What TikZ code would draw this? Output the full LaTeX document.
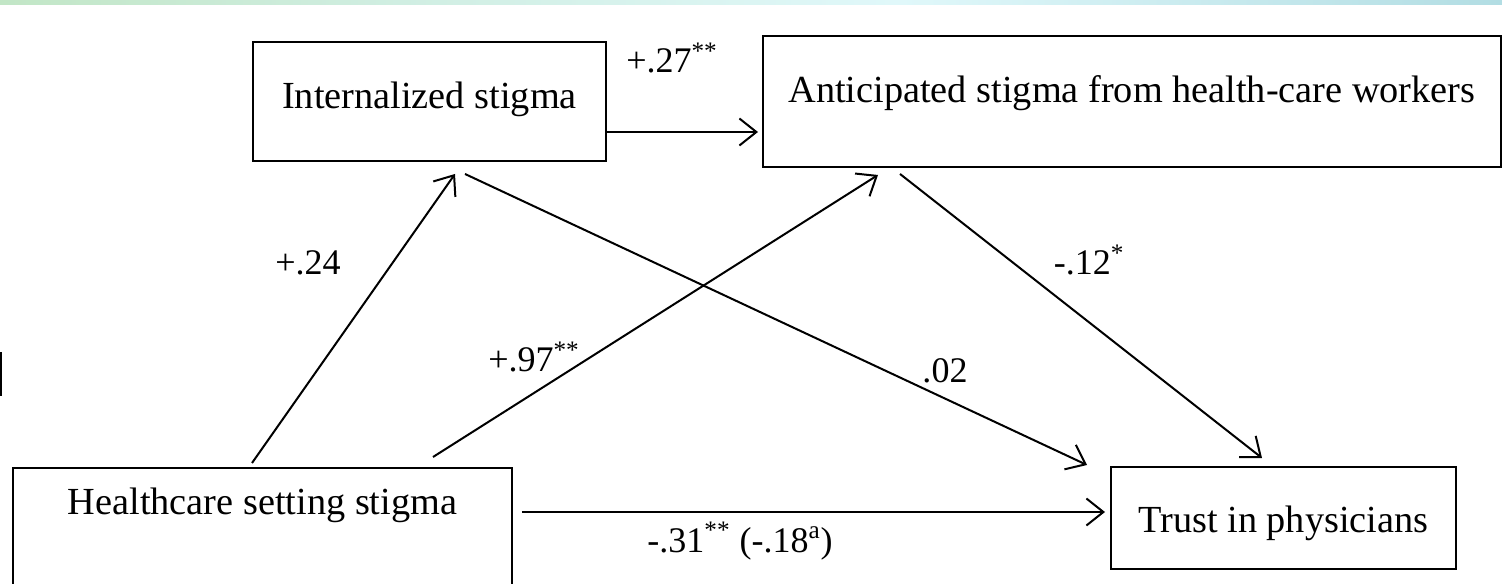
\documentclass[tikz,border=0pt]{standalone}
\usepackage{fontspec}
\setmainfont{Liberation Serif}
\usetikzlibrary{arrows.meta,calc}
\definecolor{bandgreen}{RGB}{194,230,198}
\definecolor{bandmint}{RGB}{208,238,226}
\definecolor{bandcyan}{RGB}{224,248,250}
\definecolor{bandteal}{RGB}{178,221,227}

\begin{document}
\begin{tikzpicture}[x=0.02cm,y=-0.02cm,
  box/.style={draw,line width=0.04cm,inner sep=0pt,anchor=north west,
    font=\fontsize{21.8}{26}\selectfont},
  link/.style={line width=0.04cm,-{Straight Barb[length=3.4mm,width=5.4mm]}},
  coef/.style={anchor=base,inner sep=0pt,font=\fontsize{20.5}{24}\selectfont}]
\useasboundingbox (0,0) rectangle (1502,584);
\clip (0,0) rectangle (1502,584);
% band on top
\shade[left color=bandgreen,right color=bandmint] (0,0) rectangle (400,5);
\shade[left color=bandmint,right color=bandcyan] (400,0) rectangle (900,5);
\shade[left color=bandcyan,right color=bandteal] (900,0) rectangle (1502,5);
\fill[black] (0,352) rectangle (2.5,396);
% boxes
\node[box,minimum width=7.06cm,text height=1.34cm,text depth=1.04cm] (intern) at (252,41) {Internalized stigma};
\node[box,minimum width=14.76cm,text height=1.34cm,text depth=1.28cm] (antic) at (762,35) {Anticipated stigma from health-care workers};
\node[box,minimum width=9.98cm,text height=0.94cm,text depth=3cm] (hcare) at (12,467) {Healthcare setting stigma};
\node[box,minimum width=6.9cm,text height=1.32cm,text depth=0.72cm] (trust) at (1110,466) {Trust in physicians};
% paths
\draw[link] ($(intern.north east)+(0,91)$) -- ($(antic.north west)+(-4,97)$);
\draw[link] ($(hcare.north west)+(240,-4)$) -- ($(intern.south west)+(203,12)$);
\draw[link] ($(hcare.north west)+(421,-10)$) -- ($(antic.south west)+(116,7)$);
\draw[link] ($(intern.south west)+(213,12)$) -- ($(trust.north west)+(-23,-1)$);
\draw[link] ($(antic.south west)+(138,6)$) -- ($(trust.north west)+(152,-8)$);
\draw[link] ($(hcare.north east)+(9,45)$) -- ($(trust.north west)+(-5,46)$);
% coefficients
\node[coef] (c27) at (672,73) {+.27\textsuperscript{**}};
\node[coef] (c24) at (308,275) {+.24};
\node[coef] (c97) at (534,372) {+.97\textsuperscript{**}};
\node[coef] (c02) at (945,382) {.02};
\node[coef] (c12) at (1089,275) {-.12\textsuperscript{*}};
\node[coef] (c31) at (740,552) {-.31\textsuperscript{**} (-.18\textsuperscript{a})};
\end{tikzpicture}
\end{document}
